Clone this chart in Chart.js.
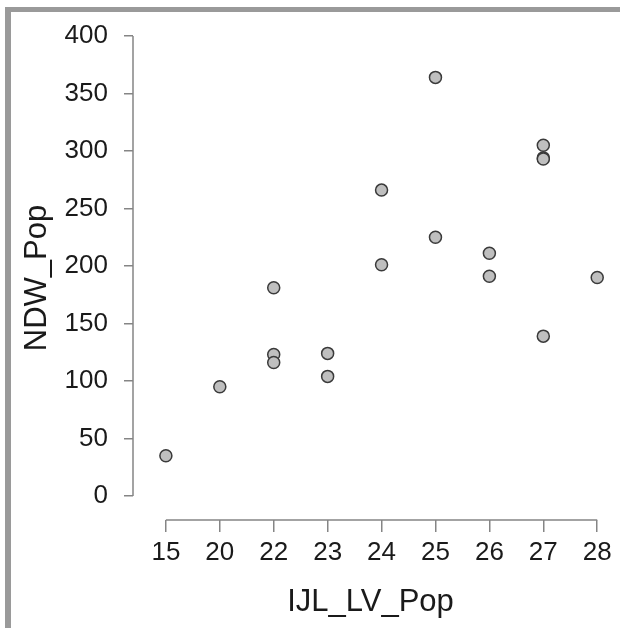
<!DOCTYPE html>
<html>
<head>
<meta charset="utf-8">
<script src="https://cdn.jsdelivr.net/npm/chart.js@4"></script>
<style>
  html, body { margin: 0; padding: 0; background: #fff; }
  #wrap { position: relative; width: 620px; height: 628px; }
  #frame { position: absolute; left: 5px; top: 7px; right: 0; bottom: 0;
           border-left: 6px solid #9a9a9a; border-top: 5px solid #9a9a9a; }
  canvas { position: absolute; left: 0; top: 0; }
</style>
</head>
<body>
<div id="wrap">
  <div id="frame"></div>
  <canvas id="chart" width="620" height="628"></canvas>
</div>
<script>
// x is categorical in the original (equal spacing)
const categories = ['15', '20', '22', '23', '24', '25', '26', '27', '28'];
const ijlValues = ['15', '20', '22', '22', '22', '23', '23', '24', '24', '25', '25', '26', '26', '27', '27', '27', '27', '28'];
const ndwValues = [35, 95, 181, 123, 116, 124, 104, 266, 201, 364, 225, 211, 191, 305, 294, 293, 139, 190];
const yTicks = [0, 50, 100, 150, 200, 250, 300, 350, 400];

var points = ijlValues.map(function (c, i) {
  return { x: categories.indexOf(c), y: ndwValues[i] };
});

// R-style detached axis lines
const axisLines = {
  id: 'axisLines',
  afterDraw: function (chart) {
    var ctx = chart.ctx;
    var xs = chart.scales.x, ys = chart.scales.y;
    ctx.save();
    ctx.strokeStyle = '#858585';
    ctx.lineWidth = 1.5;
    ctx.beginPath();
    ctx.moveTo(ys.right, ys.getPixelForValue(yTicks[0]));
    ctx.lineTo(ys.right, ys.getPixelForValue(yTicks[yTicks.length - 1]));
    ctx.moveTo(xs.getPixelForValue(0), xs.top);
    ctx.lineTo(xs.getPixelForValue(categories.length - 1), xs.top);
    ctx.stroke();
    ctx.restore();
  }
};

new Chart(document.getElementById('chart'), {
  type: 'scatter',
  data: {
    datasets: [{
      data: points,
      pointRadius: 6,
      pointHoverRadius: 6,
      pointBackgroundColor: '#bfbfbf',
      pointBorderColor: '#3a3a3a',
      pointBorderWidth: 1.5
    }]
  },
  options: {
    responsive: false,
    animation: false,
    devicePixelRatio: 1,
    layout: { padding: { top: 36, right: 12, bottom: 0, left: 0 } },
    plugins: { legend: { display: false }, tooltip: { enabled: false } },
    scales: {
      x: {
        type: 'linear',
        min: -0.61,
        max: 8.2,
        afterBuildTicks: function (s) {
          s.ticks = categories.map(function (c, i) { return { value: i }; });
        },
        afterFit: function (s) { s.height = 108; },
        border: { display: false },
        grid: { drawOnChartArea: false, drawTicks: true, tickLength: 12, color: '#858585', lineWidth: 1.5 },
        ticks: {
          padding: 5,
          color: '#1a1a1a',
          font: { family: 'Liberation Sans', size: 26 },
          maxRotation: 0,
          autoSkip: false,
          callback: function (v) { return categories[v]; }
        },
        title: {
          display: true,
          text: 'IJL_LV_Pop',
          color: '#1a1a1a',
          font: { family: 'Liberation Sans', size: 31 },
          padding: { top: 10, bottom: 7 }
        }
      },
      y: {
        min: -20.9,
        max: 400,
        afterBuildTicks: function (s) {
          s.ticks = yTicks.map(function (v) { return { value: v }; });
        },
        afterFit: function (s) { s.width = 133; },
        border: { display: false },
        grid: { drawOnChartArea: false, drawTicks: true, tickLength: 9, color: '#858585', lineWidth: 1.5 },
        ticks: {
          padding: 16,
          color: '#1a1a1a',
          font: { family: 'Liberation Sans', size: 26 }
        },
        title: {
          display: true,
          text: 'NDW_Pop',
          color: '#1a1a1a',
          font: { family: 'Liberation Sans', size: 31 },
          padding: { top: 19, bottom: 0 }
        }
      }
    }
  },
  plugins: [axisLines]
});
</script>
</body>
</html>
